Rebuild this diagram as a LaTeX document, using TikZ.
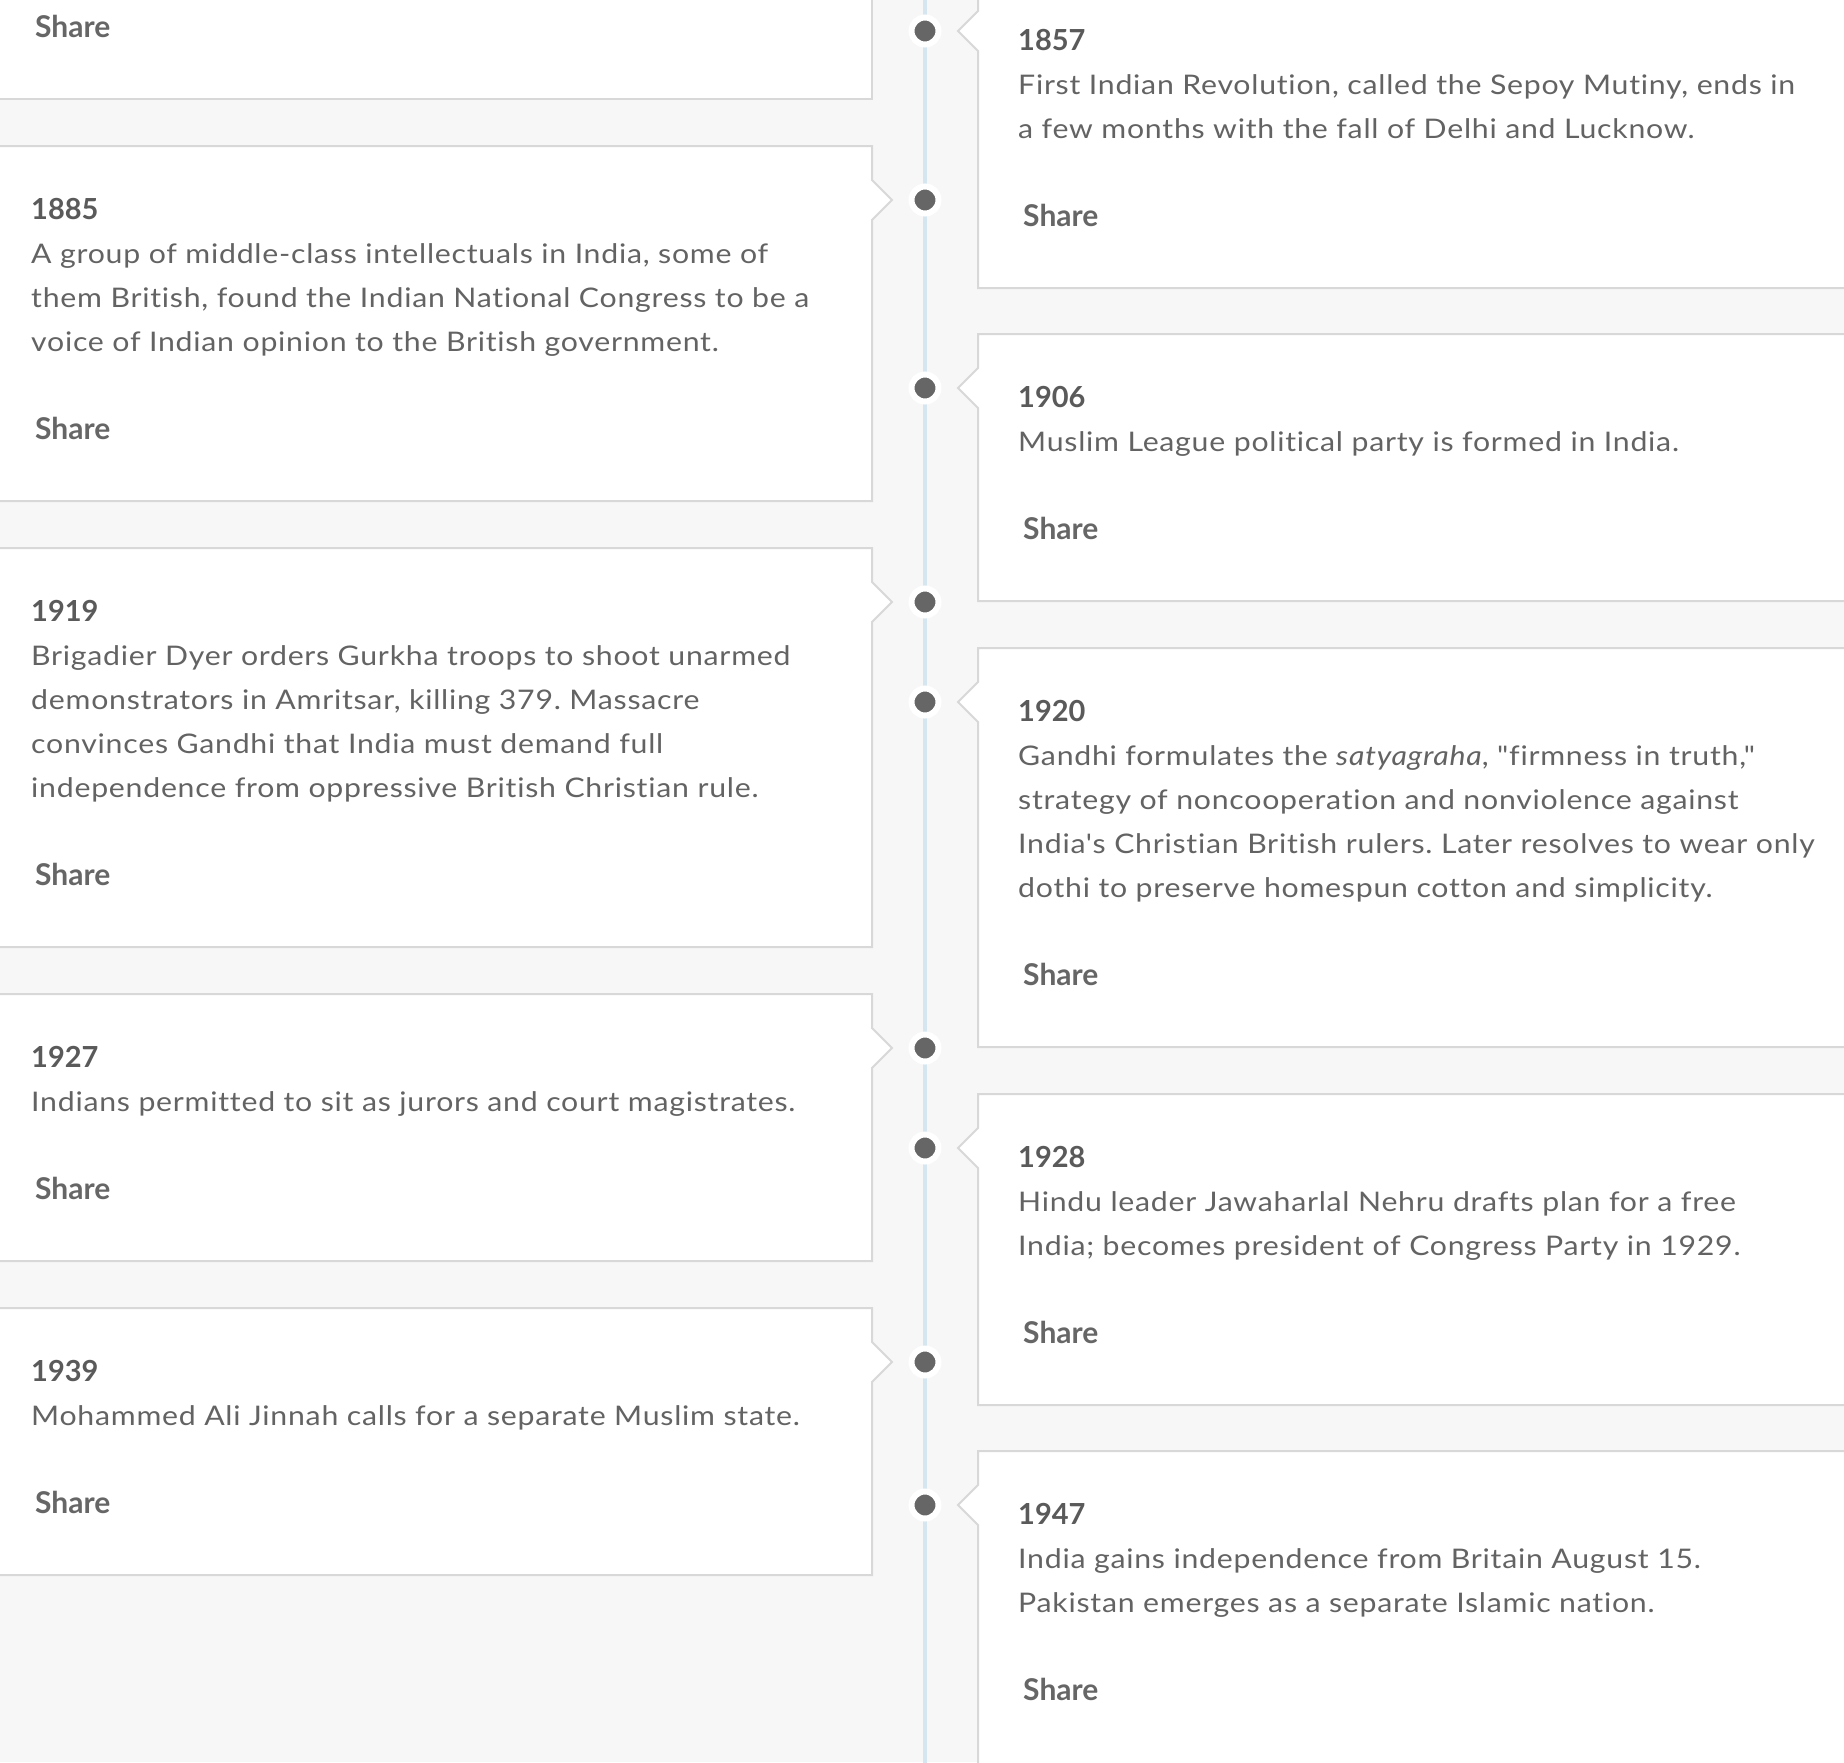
\documentclass[tikz,border=0pt]{standalone}
\usepackage{fontspec}
\setmainfont{Lato}[Ligatures={TeXOff,NoCommon}, FakeStretch=1.12, LetterSpace=2.8]
\newfontfamily\headfont{Lato}[Ligatures={TeXOff,NoCommon}]
\frenchspacing
\definecolor{bg}{HTML}{F7F7F7}
\definecolor{boxline}{HTML}{D8D8D8}
\definecolor{axis}{HTML}{D5E6F0}
\definecolor{dotc}{HTML}{666666}
\definecolor{bodyc}{HTML}{636363}
\definecolor{yearc}{HTML}{5A5A5A}
\definecolor{sharec}{HTML}{666666}
\tikzset{
  card/.style={fill=white, draw=boxline, line width=2, line join=miter},
  yeartxt/.style={anchor=base west, inner sep=0, text=yearc, font=\headfont\fontsize{29}{44}\selectfont\bfseries},
  bodytxt/.style={anchor=base west, inner sep=0, text=bodyc, font=\fontsize{27}{44}\selectfont, align=left},
  sharetxt/.style={anchor=base west, inner sep=0, text=sharec, font=\headfont\fontsize{30}{44}\selectfont\bfseries},
  dotnode/.style={circle, fill=dotc, draw=white, line width=6, minimum size=27, inner sep=0, outer sep=0},
}
\begin{document}
\begin{tikzpicture}[x=1pt,y=-1pt]
\useasboundingbox (0,0) rectangle (1844,1762);
\clip (0,0) rectangle (1844,1762);
\fill[bg] (0,0) rectangle (1844,1762);
% axis
\coordinate (axtop) at (925,-5);
\coordinate (axbot) at (925,1767);
\draw[axis, line width=4] (axtop) -- (axbot);
\def\lx{872}
\def\rx{978}
% left cards
\draw[card] (-10,-10) -- (\lx,-10) -- (\lx,99) -- (-10,99);
\draw[card] (-10,146) -- (\lx,146) -- (\lx,180) -- (892,200) -- (\lx,220) -- (\lx,501) -- (-10,501);
\draw[card] (-10,548) -- (\lx,548) -- (\lx,582) -- (892,602) -- (\lx,622) -- (\lx,947) -- (-10,947);
\draw[card] (-10,994) -- (\lx,994) -- (\lx,1028) -- (892,1048) -- (\lx,1068) -- (\lx,1261) -- (-10,1261);
\draw[card] (-10,1308) -- (\lx,1308) -- (\lx,1342) -- (892,1362) -- (\lx,1382) -- (\lx,1575) -- (-10,1575);
% right cards
\draw[card] (1854,-23) -- (\rx,-23) -- (\rx,11) -- (958,31) -- (\rx,51) -- (\rx,288) -- (1854,288);
\draw[card] (1854,334) -- (\rx,334) -- (\rx,368) -- (958,388) -- (\rx,408) -- (\rx,601) -- (1854,601);
\draw[card] (1854,648) -- (\rx,648) -- (\rx,682) -- (958,702) -- (\rx,722) -- (\rx,1047) -- (1854,1047);
\draw[card] (1854,1094) -- (\rx,1094) -- (\rx,1128) -- (958,1148) -- (\rx,1168) -- (\rx,1405) -- (1854,1405);
\draw[card] (1854,1451) -- (\rx,1451) -- (\rx,1485) -- (958,1505) -- (\rx,1525) -- (\rx,1790) -- (1854,1790);
% dots
\node[dotnode] (d1857) at (925,31) {};
\node[dotnode] (d1885) at (925,200) {};
\node[dotnode] (d1906) at (925,388) {};
\node[dotnode] (d1919) at (925,602) {};
\node[dotnode] (d1920) at (925,702) {};
\node[dotnode] (d1927) at (925,1048) {};
\node[dotnode] (d1928) at (925,1148) {};
\node[dotnode] (d1939) at (925,1362) {};
\node[dotnode] (d1947) at (925,1505) {};
\def\tlx{31}
\def\slx{35}
\def\trx{1018}
\def\srx{1023}
\node[sharetxt] (s0) at (\slx,37) {Share};
% 1885
\node[yeartxt] (y1885) at (\tlx,219) {1885};
\node[bodytxt] (b1885a) at (\tlx,263) {A group of middle-class intellectuals in India, some of};
\node[bodytxt] (b1885b) at (\tlx,307) {them British, found the Indian National Congress to be a};
\node[bodytxt] (b1885c) at (\tlx,351) {voice of Indian opinion to the British government.};
\node[sharetxt] (s1885) at (\slx,439) {Share};
% 1919
\node[yeartxt] (y1919) at (\tlx,621) {1919};
\node[bodytxt] (b1919a) at (\tlx,665) {Brigadier Dyer orders Gurkha troops to shoot unarmed};
\node[bodytxt] (b1919b) at (\tlx,709) {demonstrators in Amritsar, killing 379. Massacre};
\node[bodytxt] (b1919c) at (\tlx,753) {convinces Gandhi that India must demand full};
\node[bodytxt] (b1919d) at (\tlx,797) {independence from oppressive British Christian rule.};
\node[sharetxt] (s1919) at (\slx,885) {Share};
% 1927
\node[yeartxt] (y1927) at (\tlx,1067) {1927};
\node[bodytxt] (b1927a) at (\tlx,1111) {Indians permitted to sit as jurors and court magistrates.};
\node[sharetxt] (s1927) at (\slx,1199) {Share};
% 1939
\node[yeartxt] (y1939) at (\tlx,1381) {1939};
\node[bodytxt] (b1939a) at (\tlx,1425) {Mohammed Ali Jinnah calls for a separate Muslim state.};
\node[sharetxt] (s1939) at (\slx,1513) {Share};
% 1857
\node[yeartxt] (y1857) at (\trx,50) {1857};
\node[bodytxt] (b1857a) at (\trx,94) {First Indian Revolution, called the Sepoy Mutiny, ends in};
\node[bodytxt] (b1857b) at (\trx,138) {a few months with the fall of Delhi and Lucknow.};
\node[sharetxt] (s1857) at (\srx,226) {Share};
% 1906
\node[yeartxt] (y1906) at (\trx,407) {1906};
\node[bodytxt] (b1906a) at (\trx,451) {Muslim League political party is formed in India.};
\node[sharetxt] (s1906) at (\srx,539) {Share};
% 1920
\node[yeartxt] (y1920) at (\trx,721) {1920};
\node[bodytxt] (b1920a) at (\trx,765) {Gandhi formulates the \textit{satyagraha}, "firmness in truth,"};
\node[bodytxt] (b1920b) at (\trx,809) {strategy of noncooperation and nonviolence against};
\node[bodytxt] (b1920c) at (\trx,853) {India's Christian British rulers. Later resolves to wear only};
\node[bodytxt] (b1920d) at (\trx,897) {dothi to preserve homespun cotton and simplicity.};
\node[sharetxt] (s1920) at (\srx,985) {Share};
% 1928
\node[yeartxt] (y1928) at (\trx,1167) {1928};
\node[bodytxt] (b1928a) at (\trx,1211) {Hindu leader Jawaharlal Nehru drafts plan for a free};
\node[bodytxt] (b1928b) at (\trx,1255) {India; becomes president of Congress Party in 1929.};
\node[sharetxt] (s1928) at (\srx,1343) {Share};
% 1947
\node[yeartxt] (y1947) at (\trx,1524) {1947};
\node[bodytxt] (b1947a) at (\trx,1568) {India gains independence from Britain August 15.};
\node[bodytxt] (b1947b) at (\trx,1612) {Pakistan emerges as a separate Islamic nation.};
\node[sharetxt] (s1947) at (\srx,1700) {Share};
\end{tikzpicture}
\end{document}
